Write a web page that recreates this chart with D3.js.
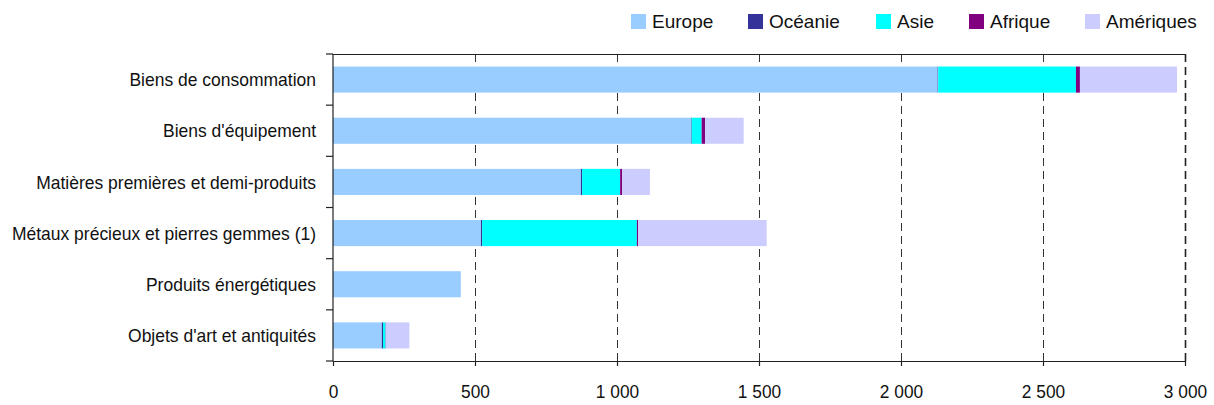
<!DOCTYPE html>
<html>
<head>
<meta charset="utf-8">
<script src="https://cdn.jsdelivr.net/npm/d3@7"></script>
<style>
	body { margin: 0; background: #fff; }
	svg text { font-family: "Liberation Sans", Arial, sans-serif; fill: #111; }
</style>
</head>
<body>
<div id="chart"></div>
<script>
// categories, top to bottom
let categories = [
	'Biens de consommation',
	"Biens d'équipement",
	'Matières premières et demi-produits',
	'Métaux précieux et pierres gemmes (1)',
	'Produits énergétiques',
	"Objets d'art et antiquités"
];

// one array per region, same order as categories
let europe = [2129, 1261, 873, 521, 450, 172];
let oceanie = [2, 2, 4, 4, 0, 4];
let asie = [485, 35, 134, 545, 0, 9];
let afrique = [14, 12, 7, 4, 0, 1];
let ameriques = [342, 136, 98, 453, 0, 83];

let seriesNames = ['Europe', 'Océanie', 'Asie', 'Afrique', 'Amériques'];
let seriesColors = ['#99ccff', '#333399', '#00ffff', '#800080', '#ccccff'];
let xTicks = [0, 500, 1000, 1500, 2000, 2500, 3000];

let marg = { left: 333, right: 29, top: 54, bot: 44 };
let W = 1214, H = 405;

let rows = categories.map((c, i) => ({
	cat: c, Europe: europe[i], 'Océanie': oceanie[i], Asie: asie[i], Afrique: afrique[i], 'Amériques': ameriques[i]
}));
let stacked = d3.stack().keys(seriesNames)(rows);

let xScale = d3.scaleLinear().domain([0, 3000]).range([marg.left, W - marg.right]);
let yScale = d3.scaleBand().domain(categories).range([marg.top, H - marg.bot]).paddingInner(0.49).paddingOuter(0.245);
let color = d3.scaleOrdinal().domain(seriesNames).range(seriesColors);

const svg = d3.select('#chart').append('svg').attr('width', W).attr('height', H);

// squeeze text horizontally, the reference font is narrower
function condense(sel, k){
	sel.each(function(){
		let len = this.getComputedTextLength();
		d3.select(this).attr('textLength', len * k).attr('lengthAdjust', 'spacingAndGlyphs');
	});
}

// dashed grid (half pixel offset so the dashes stay crisp)
svg.append('g')
	.selectAll('line')
	.data(xTicks.slice(1))
	.enter()
	.append('line')
	.attr('x1', d => Math.round(xScale(d)) + 0.5).attr('x2', d => Math.round(xScale(d)) + 0.5)
	.attr('y1', marg.top).attr('y2', H - marg.bot)
	.attr('stroke', (d) => d == 3000 ? '#222' : '#333')
	.attr('stroke-width', (d) => d == 3000 ? 1.6 : 1)
	.attr('stroke-dasharray', '8,5');

// top border
svg.append('line')
	.attr('x1', marg.left).attr('x2', W - marg.right)
	.attr('y1', marg.top + 0.5).attr('y2', marg.top + 0.5)
	.attr('stroke', '#222').attr('stroke-width', 1.2);

// bars
svg.append('g')
	.selectAll('g')
	.data(stacked)
	.enter()
	.append('g')
	.attr('fill', d => color(d.key))
	.selectAll('rect')
	.data(d => d)
	.enter()
	.append('rect')
	.attr('x', d => xScale(d[0]))
	.attr('y', d => yScale(d.data.cat))
	.attr('width', d => Math.max(0, xScale(d[1]) - xScale(d[0])))
	.attr('height', yScale.bandwidth());

// y axis: ticks between categories
let plotH = H - marg.bot - marg.top;
let yAxis = svg.append('g').attr('transform', 'translate(' + marg.left + ',0)');
yAxis.append('line')
	.attr('x1', 0).attr('x2', 0)
	.attr('y1', marg.top).attr('y2', H - marg.bot)
	.attr('stroke', '#222').attr('stroke-width', 1.2);
yAxis.selectAll('line.tk')
	.data(d3.range(categories.length + 1))
	.enter()
	.append('line')
	.attr('class', 'tk')
	.attr('x1', -7).attr('x2', 0)
	.attr('y1', i => marg.top + i * plotH / categories.length)
	.attr('y2', i => marg.top + i * plotH / categories.length)
	.attr('stroke', '#222').attr('stroke-width', 1.2);
let ylab = yAxis.selectAll('text')
	.data(categories)
	.enter()
	.append('text')
	.attr('x', -17)
	.attr('y', d => yScale(d) + yScale.bandwidth() / 2)
	.attr('dy', '0.35em')
	.attr('text-anchor', 'end')
	.style('font-size', '19px')
	.text(d => d);
condense(ylab, 0.92);

// x axis
const xAxis = d3.axisBottom(xScale)
	.tickValues(xTicks)
	.tickSize(5)
	.tickSizeOuter(0)
	.tickFormat(d => d3.format(',')(d).replace(',', ' '));
let xg = svg.append('g').attr('transform', 'translate(0,' + (H - marg.bot) + ')').call(xAxis);
xg.select('.domain').attr('stroke', '#222').attr('stroke-width', 1.2);
xg.selectAll('.tick line').attr('stroke', '#222').attr('stroke-width', 1.2);
let xlab = xg.selectAll('.tick text').attr('y', 24).style('font-size', '19px').attr('fill', '#111');
condense(xlab, 0.91);

// legend
let legendX = [631, 748, 876, 969, 1085];
let legend = svg.append('g')
	.selectAll('g')
	.data(seriesNames)
	.enter()
	.append('g')
	.attr('transform', (d, i) => 'translate(' + legendX[i] + ',14)');
legend.append('rect').attr('width', 15).attr('height', 15).attr('fill', d => color(d));
legend.append('text')
	.attr('x', 21).attr('y', 7.5).attr('dy', '0.35em')
	.style('font-size', '19px')
	.text(d => d);
</script>
</body>
</html>
